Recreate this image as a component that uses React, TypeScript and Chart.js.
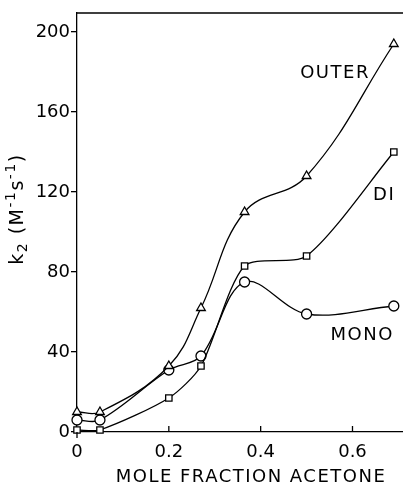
import React, { useEffect, useRef } from "react";
import { Chart, registerables } from "chart.js";

Chart.register(...registerables);

const xValues = [0, 0.05, 0.2, 0.27, 0.365, 0.5, 0.69];
const outerValues = [10, 10, 33, 62, 110, 128, 194];
const diValues = [1, 1, 17, 33, 83, 88, 140];
const monoValues = [6, 6, 31, 38, 75, 59, 63];
const seriesNames = ["OUTER", "DI", "MONO"];
const yTicks = [0, 40, 80, 120, 160, 200];
const xTicks = [0, 0.2, 0.4, 0.6];
const xTitle = "MOLE FRACTION ACETONE";
const yTitleParts = [
  { t: "k", sub: 0 },
  { t: "2", sub: 1 },
  { t: " (M", sub: 0 },
  { t: "-1", sub: -1 },
  { t: "s", sub: 0 },
  { t: "-1", sub: -1 },
  { t: ")", sub: 0 },
];
const labelPositions = [
  { text: "OUTER", x: 0.562, y: 179.5 },
  { text: "DI", x: 0.669, y: 118.5 },
  { text: "MONO", x: 0.621, y: 48.5 },
];

const FONT = "'DejaVu Sans', sans-serif";

export default function App() {
  const ref = useRef<HTMLCanvasElement | null>(null);
  useEffect(() => {
    if (!ref.current) return;
    const toPts = (vals: number[]) => xValues.map((x, i) => ({ x, y: vals[i] }));
    const common = {
      borderColor: "#000",
      borderWidth: 1.3,
      pointBackgroundColor: "#fff",
      pointBorderColor: "#000",
      pointBorderWidth: 1.3,
      clip: false as any,
    };
    const deco = {
      id: "deco",
      afterDraw(chart: any) {
        const ctx = chart.ctx;
        const { top, left, right, bottom } = chart.chartArea;
        const xs = chart.scales.x;
        const ys = chart.scales.y;
        ctx.save();
        ctx.strokeStyle = "#000";
        ctx.lineWidth = 1.3;
        ctx.beginPath();
        ctx.moveTo(left, top);
        ctx.lineTo(right, top);
        for (const v of xTicks) {
          if (v === 0) continue;
          const px = xs.getPixelForValue(v);
          ctx.moveTo(px, bottom);
          ctx.lineTo(px, bottom - 6);
        }
        ctx.moveTo(left, bottom);
        ctx.lineTo(left, bottom + 6);
        ctx.stroke();
        ctx.fillStyle = "#000";
        (ctx as any).letterSpacing = "1.5px";
        ctx.font = `18px ${FONT}`;
        ctx.textAlign = "center";
        ctx.textBaseline = "middle";
        for (const l of labelPositions) {
          ctx.fillText(l.text, xs.getPixelForValue(l.x), ys.getPixelForValue(l.y));
        }
        // x title
        ctx.fillText(xTitle, 251, 477);
        // y title (rotated, with sub/superscripts)
        ctx.save();
        ctx.translate(18, 209);
        ctx.rotate(-Math.PI / 2);
        ctx.textAlign = "left";
        const fontFor = (s: number) => (s === 0 ? `19px ${FONT}` : `14px ${FONT}`);
        let total = 0;
        for (const p of yTitleParts) {
          ctx.font = fontFor(p.sub);
          total += ctx.measureText(p.t).width;
        }
        let cx = -total / 2;
        for (const p of yTitleParts) {
          ctx.font = fontFor(p.sub);
          const dy = p.sub === 1 ? 5 : p.sub === -1 ? -7 : 0;
          ctx.fillText(p.t, cx, dy);
          cx += ctx.measureText(p.t).width;
        }
        ctx.restore();
        ctx.restore();
      },
    };
    const chart = new Chart(ref.current, {
      type: "line",
      data: {
        datasets: [
          { ...common, label: seriesNames[0], data: toPts(outerValues), pointStyle: "triangle", pointRadius: 5, tension: 0.4 },
          { ...common, label: seriesNames[1], data: toPts(diValues), pointStyle: "rect", pointRadius: 4.5, tension: 0.25 },
          { ...common, label: seriesNames[2], data: toPts(monoValues), pointStyle: "circle", pointRadius: 5, tension: 0.35 },
        ],
      },
      options: {
        animation: false,
        responsive: false,
        layout: { autoPadding: false, padding: { top: 13, left: 0, right: 0, bottom: 0 } },
        plugins: { legend: { display: false }, tooltip: { enabled: false } },
        scales: {
          x: {
            type: "linear",
            min: 0,
            max: 0.71,
            afterBuildTicks: (s: any) => {
              s.ticks = xTicks.map((v) => ({ value: v }));
            },
            afterFit: (s: any) => {
              s.height = 54;
            },
            grid: { drawOnChartArea: false, drawTicks: false },
            border: { color: "#000", width: 1.3 },
            ticks: {
              color: "#000",
              font: { family: FONT, size: 18 },
              padding: 10,
              maxRotation: 0,
              callback: (v: any) => String(v),
            },
          },
          y: {
            type: "linear",
            min: 0,
            max: 209.5,
            afterBuildTicks: (s: any) => {
              s.ticks = yTicks.map((v) => ({ value: v }));
            },
            afterFit: (s: any) => {
              s.width = 77;
            },
            grid: { drawOnChartArea: false, drawTicks: true, tickLength: 6, color: "#000", lineWidth: 1.3 },
            border: { color: "#000", width: 1.3 },
            ticks: {
              color: "#000",
              font: { family: FONT, size: 18 },
              padding: 1,
            },
          },
        },
      },
      plugins: [deco],
    } as any);
    return () => chart.destroy();
  }, []);
  return (
    <div style={{ position: "fixed", left: 0, top: 0, width: 403, height: 486, background: "#fff" }}>
      <canvas ref={ref} width={403} height={486} style={{ display: "block" }} />
    </div>
  );
}
